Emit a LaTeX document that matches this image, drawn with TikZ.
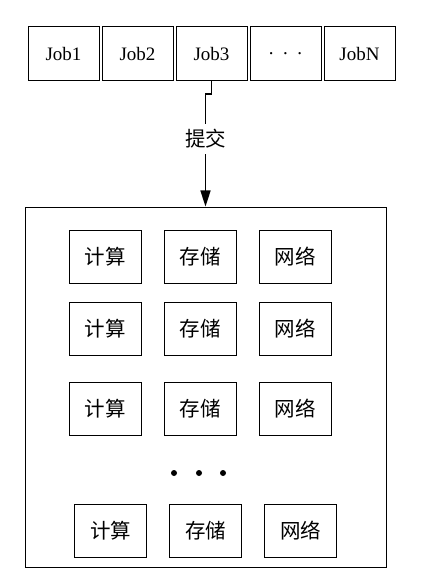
\documentclass[tikz,border=0pt]{standalone}
\usepackage{fontspec}
\setmainfont{Liberation Serif}
\newfontfamily\cjk{Noto Sans CJK SC}
\usetikzlibrary{arrows.meta,positioning}

\begin{document}
\begin{tikzpicture}[x=1pt,y=-1pt,>={Triangle[length=16pt,width=10pt]},
  node distance=2pt and 2pt,
  job/.style={draw,line width=1pt,minimum width=71pt,minimum height=54pt,inner sep=0pt,
    font=\fontsize{19}{21}\selectfont},
  res/.style={draw,line width=1pt,minimum width=72pt,minimum height=53pt,inner sep=0pt,
    font=\cjk\fontsize{20.5}{22}\selectfont},
  dot/.style={circle,fill,inner sep=0pt,minimum size=6pt}]
\useasboundingbox (0,0) rectangle (429,577);
% jobs
\node[job] (job1) at (63.5,54) {Job1};
\node[job,right=of job1] (job2) {Job2};
\node[job,right=of job2] (job3) {Job3};
\node[job,right=of job3] (jobdots) {.\ \ .\ \ .};
\node[job,right=of jobdots] (jobn) {JobN};
% cluster
\node[draw,line width=1pt,minimum width=361pt,minimum height=360pt] (cluster) at (205.5,387) {};
\node[res] (cpu1) at (105,256.5) {计算};
\node[res,right=22pt of cpu1] (disk1) {存储};
\node[res,right=22pt of disk1] (net1) {网络};
\node[res] (cpu2) at (105,328.5) {计算};
\node[res,right=22pt of cpu2] (disk2) {存储};
\node[res,right=22pt of disk2] (net2) {网络};
\node[res] (cpu3) at (105,408.5) {计算};
\node[res,right=22pt of cpu3] (disk3) {存储};
\node[res,right=22pt of disk3] (net3) {网络};
\node[dot] (dot1) at (174,473) {};
\node[dot] (dot2) at (199,473) {};
\node[dot] (dot3) at (223,473) {};
\node[res] (cpun) at (110.5,530.5) {计算};
\node[res,right=22pt of cpun] (diskn) {存储};
\node[res,right=22pt of diskn] (netn) {网络};
% submit
\coordinate (jog) at (205.5,94);
\draw[->,line width=1.6pt] (job3.south) |- (jog) -- node[pos=0.4,fill=white,inner sep=5pt,font=\cjk\fontsize{20.5}{22}\selectfont] {提交} (cluster.north);
\end{tikzpicture}
\end{document}
